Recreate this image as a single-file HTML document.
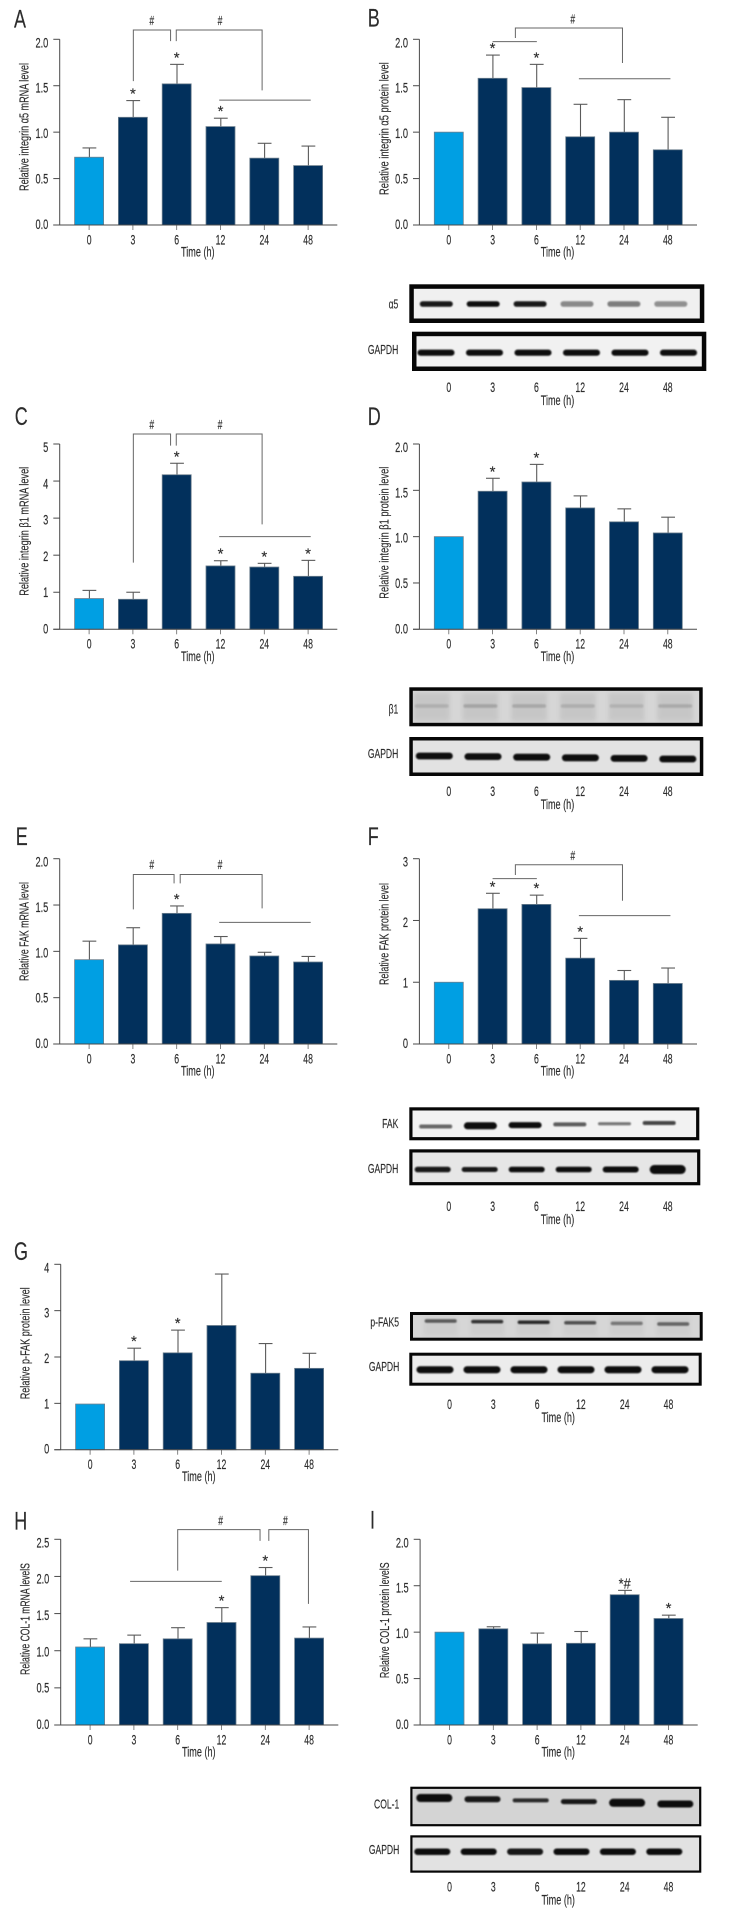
<!DOCTYPE html>
<html lang="en">
<head>
<meta charset="utf-8">
<title>Integrin, FAK and COL-1 expression over time</title>
<style>
html,body{margin:0;padding:0;background:#fff;width:732px;height:1920px;overflow:hidden}
svg{display:block;filter:blur(.35px)}
text{font-family:"Liberation Sans",Arial,sans-serif;fill:#2c2c2c;stroke:#2c2c2c;stroke-width:.16px}
</style>
</head>
<body>
<svg id="figure" xmlns="http://www.w3.org/2000/svg" width="732" height="1920" viewBox="0 0 732 1920">
<defs>
<filter id="soft" x="-30%" y="-100%" width="160%" height="300%"><feGaussianBlur stdDeviation="0.9"/></filter>
<filter id="softer" x="-30%" y="-50%" width="160%" height="200%"><feGaussianBlur stdDeviation="2"/></filter>
</defs>
</svg>
<script>
const categories = ['0', '3', '6', '12', '24', '48'];
const ticks2 = [0, 0.5, 1, 1.5, 2];
const tickLabels2 = ['0.0', '0.5', '1.0', '1.5', '2.0'];
const ticks25 = [0, 0.5, 1, 1.5, 2, 2.5];
const tickLabels25 = ['0.0', '0.5', '1.0', '1.5', '2.0', '2.5'];
const ticks3 = [0, 1, 2, 3];
const tickLabels3 = ['0', '1', '2', '3'];
const ticks4 = [0, 1, 2, 3, 4];
const tickLabels4 = ['0', '1', '2', '3', '4'];
const ticks5 = [0, 1, 2, 3, 4, 5];
const tickLabels5 = ['0', '1', '2', '3', '4', '5'];

const valuesA = [0.73, 1.16, 1.52, 1.06, 0.72, 0.64];
const errorTopsA = [0.83, 1.34, 1.73, 1.15, 0.88, 0.85];
const sigA = ['', '*', '*', '*', '', ''];
const valuesB = [1.0, 1.58, 1.48, 0.95, 1.0, 0.81];
const errorTopsB = [1.0, 1.83, 1.73, 1.30, 1.35, 1.16];
const sigB = ['', '*', '*', '', '', ''];
const valuesC = [0.83, 0.81, 4.17, 1.71, 1.68, 1.43];
const errorTopsC = [1.05, 1.0, 4.48, 1.85, 1.78, 1.86];
const sigC = ['', '', '*', '*', '*', '*'];
const valuesD = [1.0, 1.49, 1.59, 1.31, 1.16, 1.04];
const errorTopsD = [1.0, 1.63, 1.78, 1.44, 1.30, 1.21];
const sigD = ['', '*', '*', '', '', ''];
const valuesE = [0.91, 1.07, 1.41, 1.08, 0.95, 0.885];
const errorTopsE = [1.11, 1.255, 1.49, 1.16, 0.99, 0.945];
const sigE = ['', '', '*', '', '', ''];
const valuesF = [1.0, 2.19, 2.26, 1.39, 1.03, 0.98];
const errorTopsF = [1.0, 2.44, 2.41, 1.71, 1.19, 1.23];
const sigF = ['', '*', '*', '*', '', ''];
const valuesG = [0.985, 1.92, 2.09, 2.68, 1.65, 1.755];
const errorTopsG = [0.985, 2.19, 2.58, 3.79, 2.29, 2.08];
const sigG = ['', '*', '*', '', '', ''];
const valuesH = [1.05, 1.095, 1.16, 1.38, 2.01, 1.17];
const errorTopsH = [1.16, 1.21, 1.31, 1.58, 2.12, 1.32];
const sigH = ['', '', '', '*', '*', ''];
const valuesI = [1.0, 1.036, 0.874, 0.88, 1.403, 1.147];
const errorTopsI = [1.0, 1.058, 0.99, 1.007, 1.45, 1.183];
const sigI = ['', '', '', '', '*#', '*'];

/* Comparison annotations: [category position, axis value] vertices */
const bracketsA = [[[1.01,1.55],[1.01,2.10],[1.86,2.10],[1.86,1.98]], [[1.99,1.98],[1.99,2.10],[3.95,2.10],[3.95,1.45]], [[2.97,1.345],[5.06,1.345]]];
const hashesA = [[1.43,2.205],[2.99,2.205]];
const bracketsB = [[[1.52,2.014],[1.52,2.122],[3.965,2.122],[3.965,1.745]], [[1.0,1.975],[2.01,1.975]], [[2.97,1.575],[5.06,1.575]]];
const hashesB = [[2.83,2.22]];
const bracketsC = [[[1.01,1.80],[1.01,5.27],[1.86,5.27],[1.86,4.955]], [[1.99,4.955],[1.99,5.27],[3.95,5.27],[3.95,2.83]], [[2.97,2.5],[5.06,2.5]]];
const hashesC = [[1.43,5.52],[2.99,5.52]];
const bracketsE = [[[1.01,1.453],[1.01,1.83],[1.94,1.83],[1.94,1.734]], [[2.08,1.734],[2.08,1.83],[3.95,1.83],[3.95,1.464]], [[2.97,1.313],[5.06,1.313]]];
const hashesE = [[1.43,1.935],[2.99,1.935]];
const bracketsF = [[[1.52,2.736],[1.52,2.903],[3.965,2.903],[3.965,2.32]], [[1.0,2.677],[2.01,2.677]], [[2.97,2.078],[5.06,2.078]]];
const hashesF = [[2.83,3.05]];
const bracketsH = [[[2.0,2.078],[2.0,2.63],[3.88,2.63],[3.88,2.478]], [[4.08,2.478],[4.08,2.63],[4.985,2.63],[4.985,1.63]], [[0.913,1.934],[3.006,1.934]]];
const hashesH = [[2.98,2.75],[4.46,2.75]];

/* Band strengths on the western blots */
const bandsB1 = [0.95, 1, 0.95, 0.45, 0.5, 0.42];
const bandsB2 = [1, 1, 1, 1, 1, 1];
const bandsD1 = [0.12, 0.18, 0.16, 0.13, 0.11, 0.15];
const bandsD2 = [1, 1, 1, 1, 1, 1];
const bandsF1 = [0.6, 1, 1, 0.65, 0.55, 0.75];
const bandsF2 = [0.95, 0.95, 1, 1, 1, 1];
const bandsG1 = [0.6, 0.8, 0.85, 0.65, 0.45, 0.55];
const bandsG2 = [1, 1, 1, 1, 1, 1];
const bandsI1 = [1, 0.95, 0.85, 0.95, 1, 1];
const bandsI2 = [1, 1, 0.95, 1, 1, 1];

const PLOT = {axisX: 59.7, x0: 89.1, step: 43.8, barW: 29, capHalf: 6.9, rightEnd: 337.3, timeX: 197.8};
const root = document.getElementById('figure');
const NS = 'http://www.w3.org/2000/svg';

function make(tag, attrs, name, parent) {
  const el = document.createElementNS(NS, tag);
  for (const k in attrs) el.setAttribute(k, attrs[k]);
  
  
  (parent || root).appendChild(el);
  return el;
}
function label(str, x, y, size, sx, anchor, name, parent) {
  const el = make('text', {transform: 'translate(' + x + ' ' + y + ') scale(' + sx + ' 1)', 'font-size': size, 'text-anchor': anchor}, name, parent);
  el.textContent = str;
  return el;
}

function drawPanel(p) {
  const g = make('g', {}, 'panel-' + p.id, root);
  const slug = p.id.toLowerCase();
  const xAt = i => p.dx + PLOT.x0 + PLOT.step * i;
  const yAt = v => p.base - (p.base - p.top) * v / p.max;
  const ax = p.dx + PLOT.axisX;

  label(p.id, p.letterX, p.letterY, 25, 0.72, 'start', 'panel-letter-' + slug, g);

  p.values.forEach((v, i) => {
    const xc = xAt(i);
    const top = p.errorTops[i];
    const eg = make('g', {stroke: '#5a5a5a', 'stroke-width': 1.1}, 'error-bar-' + slug + '-' + categories[i], g);
    if (top > v) {
      make('line', {x1: xc + 0.3, x2: xc + 0.3, y1: yAt(v), y2: yAt(top)}, 'error-stem', eg);
      make('line', {x1: xc - PLOT.capHalf + 0.3, x2: xc + PLOT.capHalf + 0.3, y1: yAt(top), y2: yAt(top)}, 'error-cap', eg);
    }
    make('rect', {x: xc - PLOT.barW / 2, y: yAt(v), width: PLOT.barW, height: p.base - yAt(v), fill: i === 0 ? '#009fe3' : '#02305c', stroke: '#6d7f8e', 'stroke-width': 0.8}, 'bar-' + slug + '-' + categories[i], g);
    if (p.sig[i]) {
      label(p.sig[i], xc, yAt(top) - 10 + 8, 15, p.sig[i].length > 1 ? 0.85 : 1, 'middle', 'significance-' + slug + '-' + categories[i], g);
    }
    label(categories[i], xc, p.base + 19.3, 14, 0.62, 'middle', 'x-tick-label-' + slug + '-' + categories[i], g);
    make('line', {x1: xc, x2: xc, y1: p.base, y2: p.base + 5, stroke: '#666', 'stroke-width': 0.8}, 'x-tick-' + slug + '-' + categories[i], g);
  });

  make('line', {x1: ax, x2: ax, y1: p.top, y2: p.base, stroke: '#4a4a4a', 'stroke-width': 1}, 'y-axis-' + slug, g);
  make('line', {x1: ax - 6.4, x2: p.dx + PLOT.rightEnd, y1: p.base, y2: p.base, stroke: '#4a4a4a', 'stroke-width': 1}, 'x-axis-' + slug, g);

  p.ticks.forEach((t, i) => {
    make('line', {x1: ax - 6.4, x2: ax, y1: yAt(t), y2: yAt(t), stroke: '#4a4a4a', 'stroke-width': 1}, 'y-tick-' + slug + '-' + i, g);
    const nudge = -1 + 4 * t / p.max;
    label(p.tickLabels[i], ax - 11.4, yAt(t) + nudge + 5, 14, 0.66, 'end', 'y-tick-label-' + slug + '-' + i, g);
  });

  const yt = make('text', {transform: 'translate(' + (p.dx + 28.6) + ' ' + p.titleY + ') rotate(-90)', 'font-size': 13, 'text-anchor': 'middle', textLength: p.titleLen, lengthAdjust: 'spacingAndGlyphs'}, 'y-axis-title-' + slug, g);
  yt.textContent = p.title;
  label('Time (h)', p.dx + PLOT.timeX, p.base + 31.5, 14, 0.65, 'middle', 'x-axis-title-' + slug, g);

  (p.brackets || []).forEach((pts, i) => {
    const d = pts.map((q, j) => (j ? 'L' : 'M') + (xAt(q[0])) + ' ' + yAt(q[1])).join(' ');
    make('path', {d: d, fill: 'none', stroke: '#666', 'stroke-width': 1}, 'comparison-bracket-' + slug + '-' + i, g);
  });
  (p.hashes || []).forEach((q, i) => {
    label('#', xAt(q[0]), yAt(q[1]) + 4.5, 13, 0.66, 'middle', 'comparison-hash-' + slug + '-' + i, g);
  });
}

function drawBlot(b) {
  const g = make('g', {}, 'blot-' + b.name, root);
  make('rect', {x: b.x + b.border / 2, y: b.y + b.border / 2, width: b.w - b.border, height: b.h - b.border, fill: b.bg, stroke: 'none'}, 'blot-membrane-' + b.name, g);
  b.bands.forEach((o, i) => {
    const xc = b.start + b.step * i;
    const yc = b.yc + (b.drift || 0) * i / 5;
    const h = b.heights ? b.heights[i] : b.bandH;
    if (b.smear) {
      make('rect', {x: xc - b.bandW / 2 - 1, y: b.y + b.border + 2, width: b.bandW + 2, height: b.h - 2 * b.border - 4, fill: '#444', opacity: b.smear, filter: 'url(#softer)'}, 'blot-smear', g);
    }
    make('rect', {x: xc - b.bandW / 2, y: yc - h / 2, width: b.bandW, height: h, rx: h / 2, fill: '#0a0a0a', opacity: o, filter: 'url(#soft)'}, 'band-' + b.name + '-' + categories[i], g);
  });
  make('rect', {x: b.x + b.border / 2, y: b.y + b.border / 2, width: b.w - b.border, height: b.h - b.border, fill: 'none', stroke: '#060606', 'stroke-width': b.border}, 'blot-frame-' + b.name, g);
  label(b.label, b.labelX, b.labelY, 13, 0.66, 'end', 'blot-label-' + b.name, g);
}

function drawLaneAxis(dx, laneY, id) {
  const g = make('g', {}, 'blot-time-axis-' + id, root);
  categories.forEach((c, i) => {
    label(c, dx + PLOT.x0 + PLOT.step * i, laneY + 5, 14, 0.62, 'middle', 'lane-label-' + id + '-' + c, g);
  });
  label('Time (h)', dx + PLOT.timeX, laneY + 18, 14, 0.65, 'middle', 'lane-axis-title-' + id, g);
}

const panels = [
  {id:'A', dx:0, top:39.3, base:225, max:2, ticks:ticks2, tickLabels:tickLabels2, values:valuesA, errorTops:errorTopsA, sig:sigA, brackets:bracketsA, hashes:hashesA, title:'Relative integrin α5 mRNA level', titleY:127, titleLen:128, letterX:14, letterY:27.3},
  {id:'B', dx:359.7, top:39.3, base:225, max:2, ticks:ticks2, tickLabels:tickLabels2, values:valuesB, errorTops:errorTopsB, sig:sigB, brackets:bracketsB, hashes:hashesB, title:'Relative integrin α5 protein level', titleY:128.6, titleLen:132.7, letterX:367.7, letterY:26.7},
  {id:'C', dx:0, top:444, base:629.3, max:5, ticks:ticks5, tickLabels:tickLabels5, values:valuesC, errorTops:errorTopsC, sig:sigC, brackets:bracketsC, hashes:hashesC, title:'Relative integrin β1 mRNA level', titleY:531.3, titleLen:129, letterX:14.7, letterY:425},
  {id:'D', dx:359.7, top:444, base:629.3, max:2, ticks:ticks2, tickLabels:tickLabels2, values:valuesD, errorTops:errorTopsD, sig:sigD, title:'Relative integrin β1 protein level', titleY:532.7, titleLen:132, letterX:367.7, letterY:425},
  {id:'E', dx:0, top:858.7, base:1044, max:2, ticks:ticks2, tickLabels:tickLabels2, values:valuesE, errorTops:errorTopsE, sig:sigE, brackets:bracketsE, hashes:hashesE, title:'Relative FAK mRNA level', titleY:931.5, titleLen:99, letterX:15.7, letterY:845},
  {id:'F', dx:359.7, top:858.7, base:1044, max:3, ticks:ticks3, tickLabels:tickLabels3, values:valuesF, errorTops:errorTopsF, sig:sigF, brackets:bracketsF, hashes:hashesF, title:'Relative FAK protein level', titleY:934, titleLen:102, letterX:367.7, letterY:845},
  {id:'G', dx:1, top:1264.3, base:1449.7, max:4, ticks:ticks4, tickLabels:tickLabels4, values:valuesG, errorTops:errorTopsG, sig:sigG, title:'Relative p-FAK protein level', titleY:1343.3, titleLen:112, letterX:14, letterY:1260},
  {id:'H', dx:1, top:1539.3, base:1725, max:2.5, ticks:ticks25, tickLabels:tickLabels25, values:valuesH, errorTops:errorTopsH, sig:sigH, brackets:bracketsH, hashes:hashesH, title:'Relative COL-1 mRNA levelS', titleY:1619, titleLen:111.7, letterX:14.3, letterY:1529.3},
  {id:'I', dx:360.4, top:1539.3, base:1725, max:2, ticks:ticks2, tickLabels:tickLabels2, values:valuesI, errorTops:errorTopsI, sig:sigI, title:'Relative COL-1 protein levelS', titleY:1620.3, titleLen:115.7, letterX:370, letterY:1528.3}
];
panels.forEach(drawPanel);

const blots = [
  {name:'alpha5', x:409.3, y:284.3, w:295, h:38.7, border:4.5, bg:'#f0f0f0', label:'α5', labelX:398.3, labelY:308.5, bands:bandsB1, start:436.3, step:46.9, yc:304, bandW:33, bandH:5.5},
  {name:'gapdh-b', x:412, y:331.7, w:294.3, h:39.3, border:4.5, bg:'#f1f1f1', label:'GAPDH', labelX:398.3, labelY:354, bands:bandsB2, start:436, step:48.5, yc:352.7, bandW:37, bandH:6.2},
  {name:'beta1', x:409.3, y:687.3, w:293.4, h:39, border:3.5, bg:'#d6d6d6', label:'β1', labelX:398.3, labelY:713.5, bands:bandsD1, start:431.7, step:48.7, yc:706, bandW:34, bandH:3.5, smear:0.1},
  {name:'gapdh-d', x:409.3, y:737, w:294, h:39, border:3.5, bg:'#e2e2e2', label:'GAPDH', labelX:398.3, labelY:758, bands:bandsD2, start:434.3, step:48.7, yc:756, drift:3, bandW:37, bandH:6.8},
  {name:'fak', x:409.3, y:1107.3, w:290, h:33, border:3.2, bg:'#f2f2f2', label:'FAK', labelX:398.3, labelY:1128, bands:bandsF1, start:435.7, step:44.7, yc:1126.5, drift:-3.5, bandW:33, heights:[4,7,6,4,3,4]},
  {name:'gapdh-f', x:409.3, y:1149.3, w:291, h:36, border:3.2, bg:'#e6e6e6', label:'GAPDH', labelX:398.3, labelY:1173, bands:bandsF2, start:432.7, step:47, yc:1169.5, bandW:36, heights:[5.5,5,5.5,5.5,6,9]},
  {name:'p-fak', x:410, y:1312, w:292.7, h:28.7, border:3, bg:'#d6d6d6', label:'p-FAK5', labelX:399, labelY:1326.5, bands:bandsG1, start:440.7, step:46.5, yc:1321, drift:3, bandW:32, bandH:3.5, smear:0.05},
  {name:'gapdh-g', x:409.3, y:1352.7, w:292.4, h:33, border:3, bg:'#ececec', label:'GAPDH', labelX:399.3, labelY:1371, bands:bandsG2, start:435, step:47, yc:1369.7, bandW:37, bandH:7},
  {name:'col-1', x:410.3, y:1786.7, w:291, h:39.6, border:2.2, bg:'#d4d4d4', label:'COL-1', labelX:399.3, labelY:1808.5, bands:bandsI1, start:434.3, step:48.2, yc:1798, drift:6, bandW:36, heights:[8,6,4,5,8,7]},
  {name:'gapdh-i', x:410.3, y:1835.3, w:291, h:37.4, border:2.2, bg:'#e2e2e2', label:'GAPDH', labelX:399.3, labelY:1854, bands:bandsI2, start:432.3, step:46.4, yc:1851.7, bandW:36, bandH:6.5}
];
blots.forEach(drawBlot);

drawLaneAxis(359.7, 387, 'b');
drawLaneAxis(359.7, 791, 'd');
drawLaneAxis(359.7, 1206, 'f');
drawLaneAxis(360.4, 1404, 'g');
drawLaneAxis(360.4, 1886.7, 'i');
</script>
</body>
</html>
